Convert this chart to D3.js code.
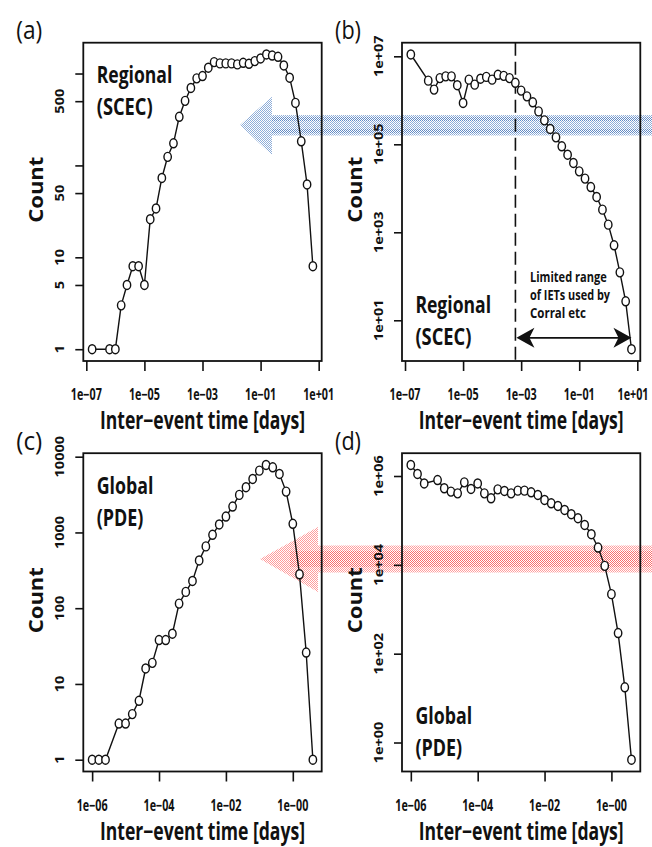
<!DOCTYPE html>
<html>
<head>
<meta charset="utf-8">
<script src="https://cdn.jsdelivr.net/npm/d3@7"></script>
<style>
  body { margin: 0; background: #fff; }
  svg text { font-family: "Open Sans", "Noto Sans", sans-serif; fill: #111; }
</style>
</head>
<body>
<svg></svg>
<script>
// bin centres, log10 of inter-event time in days
let regionalExp = [-6.8, -6.2, -6.0, -5.8, -5.6, -5.4, -5.2, -5.0, -4.8, -4.6, -4.4, -4.2, -4.0,
  -3.8, -3.6, -3.4, -3.2, -3.0, -2.8, -2.6, -2.4, -2.2, -2.0, -1.8, -1.6, -1.4, -1.2, -1.0,
  -0.8, -0.6, -0.4, -0.2, 0.0, 0.2, 0.4, 0.6, 0.8];
let globalExp = [-6.0, -5.8, -5.6, -5.2, -5.0, -4.8, -4.6, -4.4, -4.2, -4.0, -3.8, -3.6, -3.4,
  -3.2, -3.0, -2.8, -2.6, -2.4, -2.2, -2.0, -1.8, -1.6, -1.4, -1.2, -1.0, -0.8, -0.6, -0.4,
  -0.2, 0.0, 0.2, 0.4, 0.6];

// (a) regional counts, (b) regional density
let regionalCount = [1, 1, 1, 3, 5, 8, 8, 5, 26, 34, 73, 124, 174, 338, 504, 696, 886, 939,
  1156, 1332, 1288, 1288, 1288, 1256, 1309, 1276, 1365, 1458, 1611, 1570, 1520, 1224, 901,
  479, 183, 62, 8];
let regionalDensity = [1.1e7, 2.8e6, 1.75e6, 3.2e6, 3.5e6, 3.5e6, 2.2e6, 8.7e5, 2.95e6, 2.27e6,
  3.1e6, 3.4e6, 2.95e6, 3.8e6, 3.6e6, 3.2e6, 2.5e6, 1.66e6, 1.23e6, 9.0e5, 5.6e5, 3.5e5,
  2.23e5, 1.44e5, 9.0e4, 5.8e4, 3.77e4, 2.43e4, 1.66e4, 1.07e4, 6360, 3270, 1490, 507, 123,
  27, 2.2];

// (c) global counts, (d) global density
let globalCount = [1, 1, 1, 3, 3, 4, 6, 16, 19, 38, 38, 46, 115, 164, 229, 427, 654, 931, 1274,
  1623, 2197, 3130, 3950, 5080, 6540, 7770, 7240, 5910, 3460, 1300, 280, 26, 1];
let globalDensity = [1.77e6, 1.11e6, 6.8e5, 8.1e5, 5.3e5, 4.45e5, 4.07e5, 7.2e5, 5.1e5, 6.8e5,
  4.07e5, 3.15e5, 5.0e5, 4.6e5, 4.07e5, 4.68e5, 4.68e5, 4.3e5, 3.74e5, 2.89e5, 2.43e5,
  2.12e5, 1.72e5, 1.38e5, 1.12e5, 7.9e4, 4.9e4, 2.45e4, 9500, 2190, 291, 17.5, 0.41];

// ticks
let xTicksRegional = [1e-7, 1e-5, 1e-3, 1e-1, 1e1];
let xLabelsRegional = ['1e\u221207', '1e\u221205', '1e\u221203', '1e\u221201', '1e+01'];
let xTicksGlobal = [1e-6, 1e-4, 1e-2, 1e0];
let xLabelsGlobal = ['1e\u221206', '1e\u221204', '1e\u221202', '1e\u221200'];
let yTicksA = [1, 5, 10, 50, 100, 500, 1000];
let yLabelsA = ['1', '5', '10', '50', '', '500', ''];
let yTicksB = [1e1, 1e3, 1e5, 1e7];
let yLabelsB = ['1e+01', '1e+03', '1e+05', '1e+07'];
let yTicksC = [1, 10, 100, 1000, 10000];
let yLabelsC = ['1', '10', '100', '1000', '10000'];
let yTicksD = [1, 1e2, 1e4, 1e6];
let yLabelsD = ['1e+00', '1e+02', '1e+04', '1e+06'];

// limited range in (b)
let cutoff = 6.35e-4;
let rangeEnd = 6.3;
let rangeY = 4;
let rangeNote = ['Limited range', 'of IETs used by', 'Corral etc'];

let svgWidth = 652, svgHeight = 847;
let S = 1.3; // the figure is stretched vertically, text too

let svg = d3.select('svg')
  .attr('width', svgWidth)
  .attr('height', svgHeight);

let defs = svg.append('defs');
function checker(id, color) {
  let p = defs.append('pattern')
    .attr('id', id)
    .attr('width', 2).attr('height', 2)
    .attr('patternUnits', 'userSpaceOnUse');
  p.append('rect').attr('width', 1).attr('height', 1).attr('fill', color);
  p.append('rect').attr('x', 1).attr('y', 1).attr('width', 1).attr('height', 1).attr('fill', color);
}
checker('blueDots', '#5f8bc8');
checker('blueDense', '#3f6fb5');
checker('redDots', '#ff4a4a');
checker('redDense', '#f02828');

// arrows drawn first so the plots sit on top
let arrows = svg.append('g');
arrows.append('path')
  .attr('d', 'M240,125 L272,96.7 L272,115 L652,115 L652,135.5 L272,135.5 L272,155 Z')
  .attr('fill', 'url(#blueDots)')
  .attr('opacity', 0.7);
arrows.append('rect')
  .attr('x', 272).attr('y', 117).attr('width', 380).attr('height', 4)
  .attr('fill', 'url(#blueDense)').attr('opacity', 0.55);
arrows.append('rect')
  .attr('x', 272).attr('y', 129).attr('width', 380).attr('height', 4)
  .attr('fill', 'url(#blueDense)').attr('opacity', 0.55);

arrows.append('path')
  .attr('d', 'M260,559 L318,527 L318,545.5 L652,545.5 L652,572.5 L318,572.5 L318,592 Z')
  .attr('fill', 'url(#redDots)')
  .attr('opacity', 0.55);
arrows.append('rect')
  .attr('x', 290).attr('y', 551).attr('width', 362).attr('height', 16)
  .attr('fill', 'url(#redDense)').attr('opacity', 0.4);

// text helpers
function hText(g, x, y, str, size, weight, width, anchor) {
  let t = g.append('text')
    .attr('transform', `translate(${x},${y}) scale(1,${S})`)
    .attr('font-size', size)
    .attr('font-weight', weight)
    .attr('text-anchor', anchor || 'start')
    .text(str);
  if (width) t.attr('textLength', width).attr('lengthAdjust', 'spacingAndGlyphs');
  return t;
}
function vText(g, x, y, str, size, weight, width) {
  let t = g.append('text')
    .attr('transform', `translate(${x},${y}) scale(1,${S}) rotate(-90)`)
    .attr('font-size', size)
    .attr('font-weight', weight)
    .attr('text-anchor', 'middle')
    .text(str);
  if (width) t.attr('textLength', width).attr('lengthAdjust', 'spacingAndGlyphs');
  return t;
}

function paddedLog(values) {
  let logs = values.map(v => Math.log10(v));
  let lo = d3.min(logs), hi = d3.max(logs);
  let pad = 0.04 * (hi - lo);
  return [Math.pow(10, lo - pad), Math.pow(10, hi + pad)];
}

let colLeft = [83.3, 402], colRight = [321.7, 640.3];
let rowTop = [42.7, 453.2], rowBottom = [361, 771.5];

let panels = [
  { tag: '(a)', col: 0, row: 0, exp: regionalExp, vals: regionalCount,
    xt: xTicksRegional, xl: xLabelsRegional, yt: yTicksA, yl: yLabelsA,
    name: ['Regional', '(SCEC)'], nameW: [75.6, 56], nameTop: true },
  { tag: '(b)', col: 1, row: 0, exp: regionalExp, vals: regionalDensity,
    xt: xTicksRegional, xl: xLabelsRegional, yt: yTicksB, yl: yLabelsB,
    name: ['Regional', '(SCEC)'], nameW: [75.6, 56], nameTop: false },
  { tag: '(c)', col: 0, row: 1, exp: globalExp, vals: globalCount,
    xt: xTicksGlobal, xl: xLabelsGlobal, yt: yTicksC, yl: yLabelsC,
    name: ['Global', '(PDE)'], nameW: [56.7, 46.7], nameTop: true },
  { tag: '(d)', col: 1, row: 1, exp: globalExp, vals: globalDensity,
    xt: xTicksGlobal, xl: xLabelsGlobal, yt: yTicksD, yl: yLabelsD,
    name: ['Global', '(PDE)'], nameW: [56.7, 46.7], nameTop: false }
];

panels.forEach(p => {
  let L = colLeft[p.col], R = colRight[p.col];
  let T = rowTop[p.row], B = rowBottom[p.row];
  let times = p.exp.map(e => Math.pow(10, e));

  let x = d3.scaleLog().domain(paddedLog(times)).range([L, R]);
  let y = d3.scaleLog().domain(paddedLog(p.vals)).range([B, T]);

  let g = svg.append('g');

  // axes (tick marks only, labels added below)
  let xa = g.append('g')
    .attr('transform', `translate(0,${B})`)
    .call(d3.axisBottom(x).tickValues(p.xt).tickSize(10).tickFormat(''));
  let ya = g.append('g')
    .attr('transform', `translate(${L},0)`)
    .call(d3.axisLeft(y).tickValues(p.yt).tickSize(8).tickFormat(''));
  [xa, ya].forEach(a => {
    a.select('.domain').remove();
    a.selectAll('line').attr('stroke', '#111').attr('stroke-width', 1.6);
  });

  p.xt.forEach((t, i) => {
    let cx = Math.min(x(t), svgWidth - 19);
    hText(g, cx, B + 39, p.xl[i], 12, 'bold', 31, 'middle');
  });
  p.yt.forEach((t, i) => {
    let lab = p.yl[i];
    if (lab) vText(g, L - 19, y(t), lab, 12, 'bold', lab.length * 6.4);
  });

  hText(g, (L + R) / 2, B + 68, 'Inter\u2212event time [days]', 18.5, 'bold', 205, 'middle');
  vText(g, L - 40, T + 147, 'Count', 20, 'bold', 51);
  hText(g, L - 67, T - 3.5, p.tag, 20, 'normal', 26);

  // panel name
  let nx = L + 13.4;
  let ny = p.nameTop ? T + 40.6 : B - 47.7;
  hText(g, nx, ny, p.name[0], 18, 'bold', p.nameW[0]);
  hText(g, nx, ny + 31.7, p.name[1], 18, 'bold', p.nameW[1]);

  // range marker in (b)
  if (p.tag === '(b)') {
    g.append('line')
      .attr('x1', x(cutoff)).attr('x2', x(cutoff))
      .attr('y1', T).attr('y2', B)
      .attr('stroke', '#111').attr('stroke-width', 1.6)
      .attr('stroke-dasharray', '13,6');
    let x1 = x(cutoff) + 1, x2 = x(rangeEnd), yy = y(rangeY);
    g.append('line')
      .attr('x1', x1 + 10).attr('x2', x2 - 10)
      .attr('y1', yy).attr('y2', yy)
      .attr('stroke', '#111').attr('stroke-width', 1.8);
    g.append('path')
      .attr('d', `M${x1},${yy} L${x1 + 18},${yy - 10} L${x1 + 13},${yy} L${x1 + 18},${yy + 10} Z`)
      .attr('fill', '#111');
    g.append('path')
      .attr('d', `M${x2},${yy} L${x2 - 18},${yy - 10} L${x2 - 13},${yy} L${x2 - 18},${yy + 10} Z`)
      .attr('fill', '#111');
    let noteW = [76.7, 80, 56];
    rangeNote.forEach((s, i) => {
      hText(g, 530, 281.7 + i * 18.3, s, 10.3, 'bold', noteW[i]);
    });
  }

  // data line and open circles
  let pts = times.map((t, i) => [t, p.vals[i]]);
  g.append('path')
    .datum(pts)
    .attr('d', d3.line().x(d => x(d[0])).y(d => y(d[1])))
    .attr('fill', 'none')
    .attr('stroke', '#111')
    .attr('stroke-width', 1.4);
  g.selectAll('ellipse')
    .data(pts)
    .join('ellipse')
    .attr('cx', d => x(d[0]))
    .attr('cy', d => y(d[1]))
    .attr('rx', 3.7)
    .attr('ry', 4.5)
    .attr('fill', '#fff')
    .attr('stroke', '#111')
    .attr('stroke-width', 1.4);

  // plot frame
  g.append('rect')
    .attr('x', L).attr('y', T)
    .attr('width', R - L).attr('height', B - T)
    .attr('fill', 'none')
    .attr('stroke', '#111')
    .attr('stroke-width', 1.8);
});
</script>
</body>
</html>
